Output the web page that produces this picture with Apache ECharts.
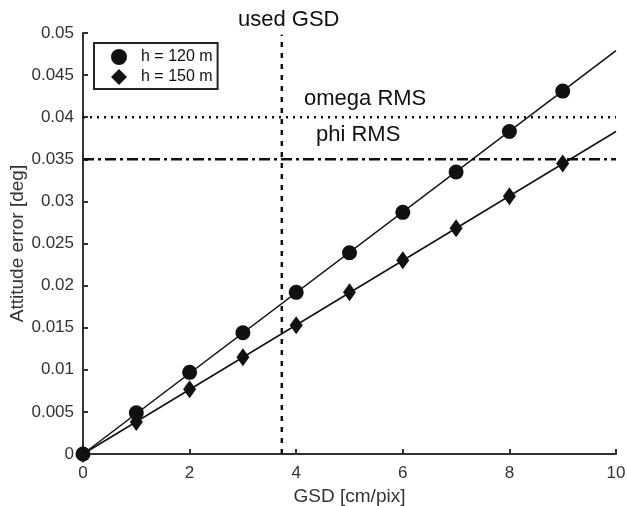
<!DOCTYPE html>
<html>
<head>
<meta charset="utf-8">
<script src="https://cdn.jsdelivr.net/npm/echarts@6/dist/echarts.min.js"></script>
<style>
  html, body { margin: 0; padding: 0; background: #fff; }
  #chart { width: 627px; height: 506px; }
</style>
</head>
<body>
<div id="chart"></div>
<script>
// GSD values where the points were computed
var gsd = [0, 1, 2, 3, 4, 5, 6, 7, 8, 9];
var err120 = [0, 0.0049, 0.0097, 0.0144, 0.0192, 0.0239, 0.0287, 0.0335, 0.0383, 0.0431];
var err150 = [0, 0.0038, 0.0077, 0.0115, 0.0153, 0.0192, 0.0230, 0.0268, 0.0306, 0.0345];
// fitted lines run on to the right edge
var fitEndX = 10;
var fitEnd120 = 0.0479;
var fitEnd150 = 0.0383;
var usedGsd = 3.73;
var omegaRms = 0.04;
var phiRms = 0.035;
var xTicks = [0, 2, 4, 6, 8, 10];

var font = "'Liberation Sans', Arial, sans-serif";
var ink = '#111';

function pairs(xs, ys) {
  var out = [];
  for (var i = 0; i < xs.length; i++) out.push([xs[i], ys[i]]);
  return out;
}

var chart = echarts.init(document.getElementById('chart'));
chart.setOption({
  animation: false,
  backgroundColor: '#fff',
  grid: { left: 83, right: 11, top: 33, bottom: 52, outerBoundsMode: 'none', containLabel: false },
  legend: {
    orient: 'vertical',
    left: 94,
    top: 43,
    padding: [6, 5, 4, 17],
    itemWidth: 16,
    itemHeight: 16,
    itemGap: 4,
    borderColor: '#222',
    borderWidth: 2,
    backgroundColor: '#fff',
    textStyle: { fontFamily: font, fontSize: 16, color: ink, padding: [0, 0, 0, 9] },
    data: [
      { name: 'h = 120 m', icon: 'circle' },
      { name: 'h = 150 m', icon: 'diamond' }
    ]
  },
  xAxis: {
    type: 'value',
    min: 0, max: 10, interval: 2,
    name: 'GSD [cm/pix]',
    nameLocation: 'middle',
    nameGap: 33,
    nameMoveOverlap: false,
    nameTextStyle: { fontFamily: font, fontSize: 19, color: '#333', verticalAlign: 'top' },
    axisLine: { lineStyle: { color: '#333', width: 2 } },
    axisTick: { inside: true, length: 5, lineStyle: { color: '#333', width: 2 } },
    axisLabel: { fontFamily: font, fontSize: 17, color: '#333', margin: 11,
      customValues: xTicks },
    splitLine: { show: false }
  },
  yAxis: {
    type: 'value',
    min: 0, max: 0.05, interval: 0.005,
    name: 'Attitude error [deg]',
    nameLocation: 'middle',
    nameGap: 56,
    nameMoveOverlap: false,
    nameTextStyle: { fontFamily: font, fontSize: 19, color: '#333' },
    axisLine: { lineStyle: { color: '#333', width: 2 } },
    axisTick: { inside: true, length: 5, lineStyle: { color: '#333', width: 2 } },
    axisLabel: { fontFamily: font, fontSize: 17, color: '#333', margin: 9 },
    splitLine: { show: false }
  },
  graphic: [
    { type: 'text', left: 238, top: 9, style: { text: 'used GSD', font: '22px ' + font, fill: ink } },
    { type: 'text', left: 304, top: 88, style: { text: 'omega RMS', font: '22px ' + font, fill: ink } },
    { type: 'text', left: 316, top: 124, style: { text: 'phi RMS', font: '22px ' + font, fill: ink } }
  ],
  series: [
    {
      name: 'omega', type: 'line', symbol: 'none', silent: true,
      data: [[0, omegaRms], [fitEndX, omegaRms]],
      lineStyle: { color: ink, width: 2.5, type: [2, 5] }
    },
    {
      name: 'phi', type: 'line', symbol: 'none', silent: true,
      data: [[0, phiRms], [fitEndX, phiRms]],
      lineStyle: { color: ink, width: 2.5, type: [11, 4, 3, 4] }
    },
    {
      name: 'used', type: 'line', symbol: 'none', silent: true,
      data: [[usedGsd, 0], [usedGsd, 0.0498]],
      lineStyle: { color: ink, width: 2.5, type: [5, 6] }
    },
    {
      name: 'fit120', type: 'line', symbol: 'none', silent: true,
      data: [[0, 0], [fitEndX, fitEnd120]],
      lineStyle: { color: ink, width: 1.5 }
    },
    {
      name: 'fit150', type: 'line', symbol: 'none', silent: true,
      data: [[0, 0], [fitEndX, fitEnd150]],
      lineStyle: { color: ink, width: 1.5 }
    },
    {
      name: 'h = 120 m', type: 'scatter', symbol: 'circle', symbolSize: 15,
      data: pairs(gsd, err120),
      itemStyle: { color: ink, opacity: 1 }
    },
    {
      name: 'h = 150 m', type: 'scatter', symbol: 'diamond', symbolSize: [13, 18],
      data: pairs(gsd, err150),
      itemStyle: { color: ink, opacity: 1 }
    }
  ]
});
</script>
</body>
</html>
